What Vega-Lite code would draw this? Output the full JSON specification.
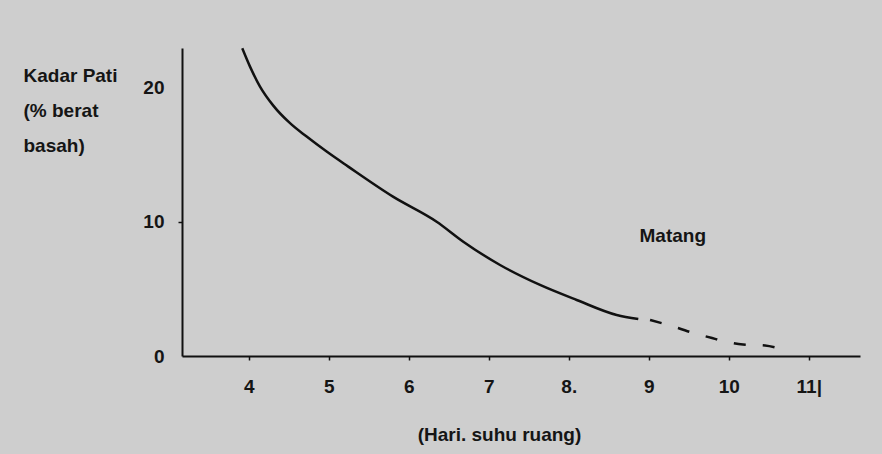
{
  "$schema": "https://vega.github.io/schema/vega-lite/v6.json",
  "autosize": "none",
  "padding": {"left": 182, "top": 48, "right": 22, "bottom": 98},
  "width": 678,
  "height": 308,
  "background": "#cecece",
  "config": {
    "view": {"stroke": null},
    "font": "Liberation Sans",
    "axis": {
      "domainColor": "#111111",
      "domainWidth": 2,
      "tickColor": "#111111",
      "tickWidth": 1.5,
      "tickSize": 4,
      "labelFont": "Liberation Sans",
      "labelFontSize": 19,
      "labelFontWeight": "bold",
      "labelColor": "#151515",
      "titleFont": "Liberation Sans",
      "titleFontSize": 19,
      "titleFontWeight": "bold",
      "titleColor": "#151515",
      "grid": false
    }
  },
  "data": {
    "values": [
      {"hari": 3.919, "pati": 22.96, "seg": "solid"},
      {"hari": 4.016, "pati": 21.59, "seg": "solid"},
      {"hari": 4.141, "pati": 20.10, "seg": "solid"},
      {"hari": 4.307, "pati": 18.68, "seg": "solid"},
      {"hari": 4.516, "pati": 17.37, "seg": "solid"},
      {"hari": 4.724, "pati": 16.37, "seg": "solid"},
      {"hari": 4.974, "pati": 15.25, "seg": "solid"},
      {"hari": 5.244, "pati": 14.13, "seg": "solid"},
      {"hari": 5.803, "pati": 11.89, "seg": "solid"},
      {"hari": 6.349, "pati": 10.02, "seg": "solid"},
      {"hari": 6.682, "pati": 8.53, "seg": "solid"},
      {"hari": 7.141, "pati": 6.79, "seg": "solid"},
      {"hari": 7.641, "pati": 5.30, "seg": "solid"},
      {"hari": 8.099, "pati": 4.18, "seg": "solid"},
      {"hari": 8.599, "pati": 3.06, "seg": "solid"},
      {"hari": 8.869, "pati": 2.76, "seg": "solid"},
      {"hari": 9.016, "pati": 2.69, "seg": "dashed"},
      {"hari": 9.366, "pati": 2.09, "seg": "dashed"},
      {"hari": 9.553, "pati": 1.72, "seg": "dashed"},
      {"hari": 9.791, "pati": 1.34, "seg": "dashed"},
      {"hari": 9.928, "pati": 1.12, "seg": "dashed"},
      {"hari": 10.178, "pati": 0.86, "seg": "dashed"},
      {"hari": 10.453, "pati": 0.78, "seg": "dashed"},
      {"hari": 10.603, "pati": 0.60, "seg": "dashed"}
    ]
  },
  "encoding": {
    "x": {
      "field": "hari",
      "type": "quantitative",
      "scale": {"domain": [3.166, 11.64], "nice": false, "zero": false},
      "axis": {
        "values": [4, 5, 6, 7, 8, 9, 10, 11],
        "labelPadding": 17,
        "labelExpr": "datum.value == 8 ? '8.' : datum.value == 11 ? '11|' : datum.label",
        "title": "(Hari. suhu ruang)",
        "titleX": 317,
        "titleY": 69,
        "titleAlign": "center",
        "titleBaseline": "top",
        "titleAnchor": null
      }
    },
    "y": {
      "field": "pati",
      "type": "quantitative",
      "scale": {"domain": [0, 22.98], "nice": false},
      "axis": {
        "values": [0, 10, 20],
        "tickOpacity": {"expr": "datum.value == 10 ? 1 : 0"},
        "labelPadding": 14,
        "title": ["Kadar Pati", "(% berat", "basah)"],
        "titleAngle": 0,
        "titleAlign": "left",
        "titleBaseline": "top",
        "titleX": -159,
        "titleY": 18,
        "titleLineHeight": 35
      }
    }
  },
  "layer": [
    {
      "transform": [{"filter": "datum.seg == 'solid'"}],
      "mark": {"type": "line", "color": "#111111", "strokeWidth": 2.5, "interpolate": "monotone"}
    },
    {
      "transform": [{"filter": "datum.seg == 'dashed'"}],
      "mark": {"type": "line", "color": "#111111", "strokeWidth": 2.5, "interpolate": "monotone", "strokeDash": [12, 17]}
    },
    {
      "data": {"values": [{"hari": 9.30, "pati": 8.96, "label": "Matang"}]},
      "mark": {"type": "text", "font": "Liberation Sans", "fontSize": 19, "fontWeight": "bold", "color": "#151515", "align": "center", "baseline": "middle"},
      "encoding": {
        "x": {"field": "hari", "type": "quantitative"},
        "y": {"field": "pati", "type": "quantitative"},
        "text": {"field": "label"}
      }
    }
  ]
}
